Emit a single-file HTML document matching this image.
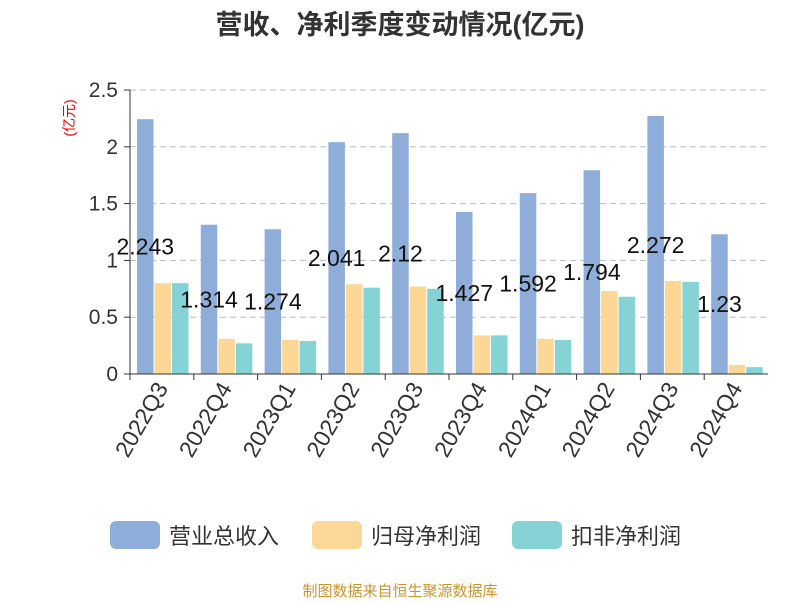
<!DOCTYPE html>
<html><head><meta charset="utf-8"><style>
body{margin:0;background:#fff;}
text{font-family:"Liberation Sans","Noto Sans CJK SC",sans-serif;}
</style></head><body>
<svg id="chart" width="800" height="600" xmlns="http://www.w3.org/2000/svg">
<text x="400" y="34" text-anchor="middle" font-size="27" font-weight="bold" fill="#333">营收、净利季度变动情况(亿元)</text>
<text transform="translate(74,118) rotate(-90)" text-anchor="middle" font-size="14" fill="#e00">(亿元)</text>
<g id="grid"></g><g id="bars"></g><g id="axes"></g><g id="labels"></g>
<g>
<rect x="110" y="521" width="50" height="28" rx="6" fill="#8eadd9"/>
<text x="169" y="544" font-size="22" fill="#333">营业总收入</text>
<rect x="312" y="521" width="50" height="28" rx="6" fill="#fdd796"/>
<text x="371" y="544" font-size="22" fill="#333">归母净利润</text>
<rect x="512" y="521" width="50" height="28" rx="6" fill="#86d3d6"/>
<text x="571" y="544" font-size="22" fill="#333">扣非净利润</text>
</g>
<text x="400" y="596" text-anchor="middle" font-size="15" fill="#c8962e">制图数据来自恒生聚源数据库</text>
</svg>
<script>
const categories=["2022Q3","2022Q4","2023Q1","2023Q2","2023Q3","2023Q4","2024Q1","2024Q2","2024Q3","2024Q4"];
const revenue=[2.243,1.314,1.274,2.041,2.12,1.427,1.592,1.794,2.272,1.23];
const netProfit=[0.80,0.31,0.30,0.79,0.77,0.34,0.31,0.73,0.82,0.08];
const deductedProfit=[0.80,0.27,0.29,0.76,0.75,0.34,0.30,0.68,0.81,0.06];
const yTicks=[0,0.5,1,1.5,2,2.5];
const yTickLabels=["0","0.5","1","1.5","2","2.5"];
const NS="http://www.w3.org/2000/svg";
const x0=130,x1=768,yb=374,yt=90,ymax=2.5;
const bw=(x1-x0)/categories.length;
const y=v=>yb-(v/ymax)*(yb-yt);
function mk(tag,attrs,parent,txt){const e=document.createElementNS(NS,tag);for(const k in attrs)e.setAttribute(k,attrs[k]);if(txt!==undefined)e.textContent=txt;document.getElementById(parent).appendChild(e);return e;}
yTicks.forEach((t,i)=>{
  if(t>0){const l=mk('line',{x1:x0,x2:x1,y1:y(t),y2:y(t),stroke:'#bbb','stroke-dasharray':'6,4'},'grid');
  
  }
  const tl=mk('text',{x:118,y:y(t)+7,'text-anchor':'end','font-size':21,fill:'#333'},'axes',yTickLabels[i]);
  
  
  const tk=mk('line',{x1:124,x2:x0,y1:y(t),y2:y(t),stroke:'#333'},'axes');
  
  
});
const ya=mk('line',{x1:x0,x2:x0,y1:yt,y2:yb,stroke:'#333'},'axes');


const xa=mk('line',{x1:x0,x2:x1,y1:yb,y2:yb,stroke:'#333'},'axes');


const series=[[revenue,'#8eadd9','revenue'],[netProfit,'#fdd796','net-profit'],[deductedProfit,'#86d3d6','deducted-profit']];
const w=16.5,pad=7;
categories.forEach((c,i)=>{
  const cx=x0+i*bw;
  series.forEach((s,j)=>{
    const v=s[0][i];const bx=cx+pad+j*(w+1);
    const r=mk('rect',{x:bx,y:y(v),width:w,height:yb-y(v),fill:s[1]},'bars');
    
    
  });
  const tk=mk('line',{x1:cx,x2:cx,y1:yb,y2:yb+6,stroke:'#333'},'axes');
  
  
  const lx=cx+bw/2,ly=yb+10;
  const t=mk('text',{x:lx,y:ly,'text-anchor':'end','font-size':23,fill:'#333',transform:`rotate(-60 ${lx} ${ly}) translate(0 8)`},'axes',c);
  
  
  const v=revenue[i];
  const vl=mk('text',{x:cx+pad+w/2,y:y(v/2)+8,'text-anchor':'middle','font-size':23,fill:'#111'},'labels',String(v));
  
  
});
</script>
</body></html>
